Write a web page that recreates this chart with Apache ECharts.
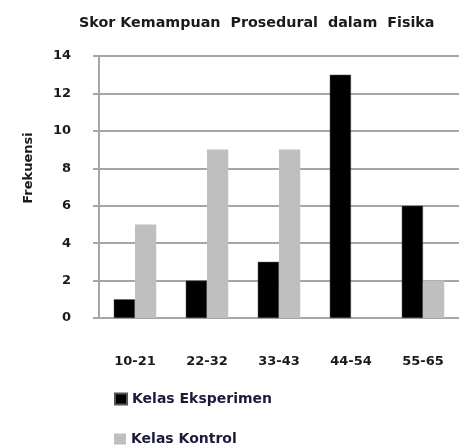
<!DOCTYPE html>
<html>
<head>
<meta charset="utf-8">
<style>
html,body{margin:0;padding:0;background:#fff;}
#chart{width:459px;height:448px;}
</style>
<script src="https://cdn.jsdelivr.net/npm/echarts@6/dist/echarts.min.js"></script>
</head>
<body>
<div id="chart"></div>
<script>
var categories = ['10-21', '22-32', '33-43', '44-54', '55-65'];
var eksperimen = [1, 2, 3, 13, 6];
var kontrol = [5, 9, 9, 0, 2];
var yTicks = { min: 0, max: 14, interval: 2 };
var seriesNames = ['Kelas Eksperimen', 'Kelas Kontrol'];

var chart = echarts.init(document.getElementById('chart'), null, { renderer: 'canvas' });
var fontFam = '"DejaVu Sans", sans-serif';
var gridColor = '#a6a6a6';
var textColor = '#1a1a1a';
function legendFor(name, top) {
  return {
    orient: 'vertical',
    left: 114,
    top: top,
    padding: 0,
    itemWidth: 12,
    itemHeight: 11,
    itemGap: 6,
    icon: 'rect',
    textStyle: { fontFamily: fontFam, fontWeight: 'bold', fontSize: 14, color: '#1a1a3a' },
    data: [name]
  };
}
chart.setOption({
  animation: false,
  backgroundColor: '#ffffff',
  title: {
    text: 'Skor Kemampuan  Prosedural  dalam  Fisika',
    left: 74,
    top: 11,
    textStyle: { fontFamily: fontFam, fontWeight: 'bold', fontSize: 14.3, color: textColor }
  },
  graphic: [{
    type: 'text',
    x: 29, y: 168,
    rotation: Math.PI / 2,
    style: { text: 'Frekuensi', fontFamily: fontFam, fontWeight: 'bold', fontSize: 13, fill: textColor, align: 'center', verticalAlign: 'middle' }
  }],
  legend: [legendFor(seriesNames[0], 392), legendFor(seriesNames[1], 432)],
  grid: { left: 99, right: -5, top: 56, bottom: 130, containLabel: false },
  xAxis: {
    type: 'category',
    data: categories,
    axisLine: { lineStyle: { color: gridColor, width: 2 } },
    axisTick: { show: false },
    axisLabel: { margin: 37, fontFamily: fontFam, fontWeight: 'bold', fontSize: 13, color: textColor }
  },
  yAxis: {
    type: 'value',
    min: yTicks.min, max: yTicks.max, interval: yTicks.interval,
    axisLine: { show: true, lineStyle: { color: gridColor, width: 2 } },
    axisTick: { show: true, length: 6, lineStyle: { color: gridColor, width: 2 } },
    splitLine: { lineStyle: { color: gridColor, width: 2 } },
    axisLabel: { margin: 28, fontFamily: fontFam, fontWeight: 'bold', fontSize: 13, color: textColor }
  },
  series: [
    { name: seriesNames[0], type: 'bar', data: eksperimen, barGap: '0%', barCategoryGap: '41%',
      itemStyle: { color: '#000000', borderColor: '#555555', borderWidth: 0.5 } },
    { name: seriesNames[1], type: 'bar', data: kontrol,
      itemStyle: { color: '#bfbfbf' } }
  ]
});
</script>
</body>
</html>
